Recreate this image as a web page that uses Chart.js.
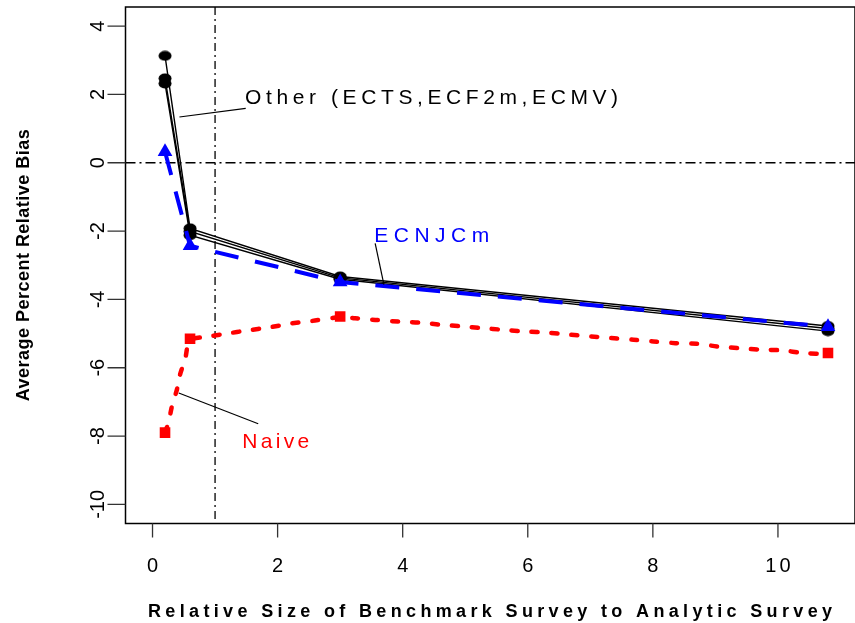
<!DOCTYPE html>
<html>
<head>
<meta charset="utf-8">
<script src="https://cdn.jsdelivr.net/npm/chart.js@4.4.1/dist/chart.umd.min.js"></script>
<style>
  html, body { margin: 0; padding: 0; background: #fff; overflow: hidden; }
  canvas { display: block; }
</style>
</head>
<body>
<canvas id="biasChart" width="855" height="623"></canvas>
<script>
// benchmark size ratios and the estimator curves
const sizeRatio = [0.2, 0.6, 3, 10.8];
const otherA = [3.13, -1.92, -3.33, -4.78];
const otherB = [2.47, -2.01, -3.37, -4.85];
const otherC = [2.32, -2.12, -3.41, -4.93];
const ecnjcm = [0.32, -2.43, -3.49, -4.80];
const naive = [-7.9, -5.15, -4.5, -5.57];

// the smooth dotted curve for the naive estimator
const naiveCurveX = [0.2, 0.26, 0.31, 0.39, 0.44, 0.52, 0.6, 0.85, 1.19, 1.51, 1.86, 2.2, 2.55, 3.0,
  3.24, 3.56, 3.94, 4.28, 4.6, 4.95, 5.27, 5.61, 5.96, 6.31, 6.65, 7.0, 7.32, 7.69, 8.01, 8.36,
  8.7, 9.05, 9.4, 9.72, 10.06, 10.41, 10.8];
const naiveCurveY = [-7.9, -7.57, -7.13, -6.64, -6.2, -5.76, -5.2, -5.1, -5.0, -4.91, -4.82, -4.71, -4.63, -4.52,
  -4.55, -4.6, -4.65, -4.68, -4.74, -4.79, -4.84, -4.89, -4.94, -4.97, -5.03, -5.08, -5.13, -5.18, -5.23, -5.28,
  -5.3, -5.38, -5.43, -5.47, -5.49, -5.57, -5.6];

const xTicks = [0, 2, 4, 6, 8, 10];
const yTicks = [4, 2, 0, -2, -4, -6, -8, -10];

const xTitle = 'Relative Size of Benchmark Survey to Analytic Survey';
const yTitle = 'Average Percent Relative Bias';

// labels inside the plot, placed in data units with a leader line
const notes = [
  { text: 'Other (ECTS,ECF2m,ECMV)', color: '#000', x: 1.48, y: 1.73, width: 373, line: [[0.43, 1.34], [1.49, 1.59]] },
  { text: 'ECNJCm', color: '#0000ff', x: 3.545, y: -2.31, width: 115, line: [[3.56, -2.36], [3.70, -3.57]] },
  { text: 'Naive', color: '#ff0000', x: 1.434, y: -8.34, width: 67, line: [[0.42, -6.74], [1.69, -7.64]] }
];

const pts = (xs, ys) => xs.map((x, i) => ({ x, y: ys[i] }));

const ellipseDot = (w, h) => {
  const c = document.createElement('canvas');
  c.width = w; c.height = h;
  const g = c.getContext('2d');
  g.fillStyle = '#000';
  g.beginPath();
  g.ellipse(w / 2, h / 2, w / 2 - 0.5, h / 2 - 0.5, 0, 0, Math.PI * 2);
  g.fill();
  return c;
};
const dot = ellipseDot(14, 11);

const FONT = '"Liberation Sans", Arial, sans-serif';

// draws str so that it spans `width` pixels by spreading the letters
const spacedText = (ctx, str, x, y, width) => {
  ctx.letterSpacing = '0px';
  const w = ctx.measureText(str).width;
  const ls = Math.max(0, (width - w) / (str.length - 1));
  ctx.letterSpacing = ls + 'px';
  ctx.fillText(str, x, y);
  ctx.letterSpacing = '0px';
};

const rFrame = {
  id: 'rFrame',
  beforeDatasetsDraw(chart) {
    const { ctx, chartArea: a, scales: { x, y } } = chart;
    ctx.save();
    ctx.strokeStyle = '#000';
    ctx.lineWidth = 1.3;
    ctx.setLineDash([10, 4, 2, 4]);
    ctx.beginPath();
    ctx.moveTo(a.left, y.getPixelForValue(0));
    ctx.lineTo(a.right, y.getPixelForValue(0));
    ctx.stroke();
    ctx.setLineDash([8, 4, 2, 4]);
    ctx.beginPath();
    ctx.moveTo(x.getPixelForValue(1), a.top);
    ctx.lineTo(x.getPixelForValue(1), a.bottom);
    ctx.stroke();
    ctx.restore();
  },
  afterDraw(chart) {
    const { ctx, chartArea: a, scales: { x, y } } = chart;
    ctx.save();
    ctx.setLineDash([]);

    // box and ticks
    ctx.strokeStyle = '#000';
    ctx.lineWidth = 1.5;
    ctx.strokeRect(a.left, a.top, a.right - a.left, a.bottom - a.top);
    ctx.lineWidth = 1.3;
    ctx.strokeStyle = '#333';
    ctx.beginPath();
    xTicks.forEach(v => {
      const px = x.getPixelForValue(v);
      ctx.moveTo(px, a.bottom);
      ctx.lineTo(px, a.bottom + 14);
    });
    yTicks.forEach(v => {
      const py = y.getPixelForValue(v);
      ctx.moveTo(a.left - 18, py);
      ctx.lineTo(a.left, py);
    });
    ctx.stroke();

    // tick labels
    ctx.fillStyle = '#000';
    ctx.font = '20px ' + FONT;
    ctx.textAlign = 'center';
    ctx.textBaseline = 'alphabetic';
    xTicks.forEach(v => {
      ctx.letterSpacing = String(v).length > 1 ? '3px' : '0px';
      ctx.fillText(String(v), x.getPixelForValue(v) + (String(v).length > 1 ? 1.5 : 0), 572);
    });
    ctx.letterSpacing = '0px';
    yTicks.forEach(v => {
      ctx.save();
      ctx.translate(104, y.getPixelForValue(v));
      ctx.rotate(-Math.PI / 2);
      ctx.fillText(String(v), 0, 0);
      ctx.restore();
    });

    // axis titles
    ctx.font = 'bold 18px ' + FONT;
    ctx.textAlign = 'left';
    spacedText(ctx, xTitle, 148, 617, 684);
    ctx.save();
    ctx.translate(29, (a.top + a.bottom) / 2 + 136);
    ctx.rotate(-Math.PI / 2);
    ctx.font = 'bold 18px ' + FONT;
    spacedText(ctx, yTitle, 0, 0, 272);
    ctx.restore();

    // in-plot labels
    ctx.font = '21px ' + FONT;
    ctx.textAlign = 'left';
    notes.forEach(n => {
      ctx.strokeStyle = '#000';
      ctx.lineWidth = 1.2;
      ctx.beginPath();
      ctx.moveTo(x.getPixelForValue(n.line[0][0]), y.getPixelForValue(n.line[0][1]));
      ctx.lineTo(x.getPixelForValue(n.line[1][0]), y.getPixelForValue(n.line[1][1]));
      ctx.stroke();
      ctx.fillStyle = n.color;
      spacedText(ctx, n.text, x.getPixelForValue(n.x), y.getPixelForValue(n.y), n.width);
    });
    ctx.restore();
  }
};

const blackLine = (vals) => ({
  data: pts(sizeRatio, vals),
  showLine: true,
  borderColor: '#000',
  borderWidth: 1.4,
  pointStyle: dot,
  pointRadius: 6
});

new Chart(document.getElementById('biasChart'), {
  type: 'scatter',
  data: {
    datasets: [
      {
        data: pts(sizeRatio, ecnjcm),
        showLine: true,
        borderColor: '#0000ff',
        borderWidth: 4,
        borderDash: [24, 17],
        pointStyle: 'triangle',
        pointRadius: 8.5,
        pointBackgroundColor: '#0000ff',
        pointBorderWidth: 0
      },
      {
        data: pts(sizeRatio, naive),
        showLine: false,
        pointStyle: 'rect',
        pointRadius: 7.5,
        pointBackgroundColor: '#ff0000',
        pointBorderWidth: 0
      },
      {
        data: pts(naiveCurveX, naiveCurveY),
        showLine: true,
        borderColor: '#ff0000',
        borderWidth: 4.5,
        borderDash: [6, 14],
        borderCapStyle: 'round',
        tension: 0.3,
        pointRadius: 0
      },
      blackLine(otherA),
      blackLine(otherB),
      blackLine(otherC)
    ]
  },
  options: {
    responsive: false,
    animation: false,
    events: [],
    layout: { autoPadding: false, padding: { left: 125.5, top: 7, right: 0, bottom: 99.5 } },
    plugins: { legend: { display: false }, tooltip: { enabled: false } },
    scales: {
      x: { type: 'linear', display: false, min: -0.432, max: 11.232 },
      y: { type: 'linear', display: false, min: -10.56, max: 4.56 }
    }
  },
  plugins: [rFrame]
});
</script>
</body>
</html>
